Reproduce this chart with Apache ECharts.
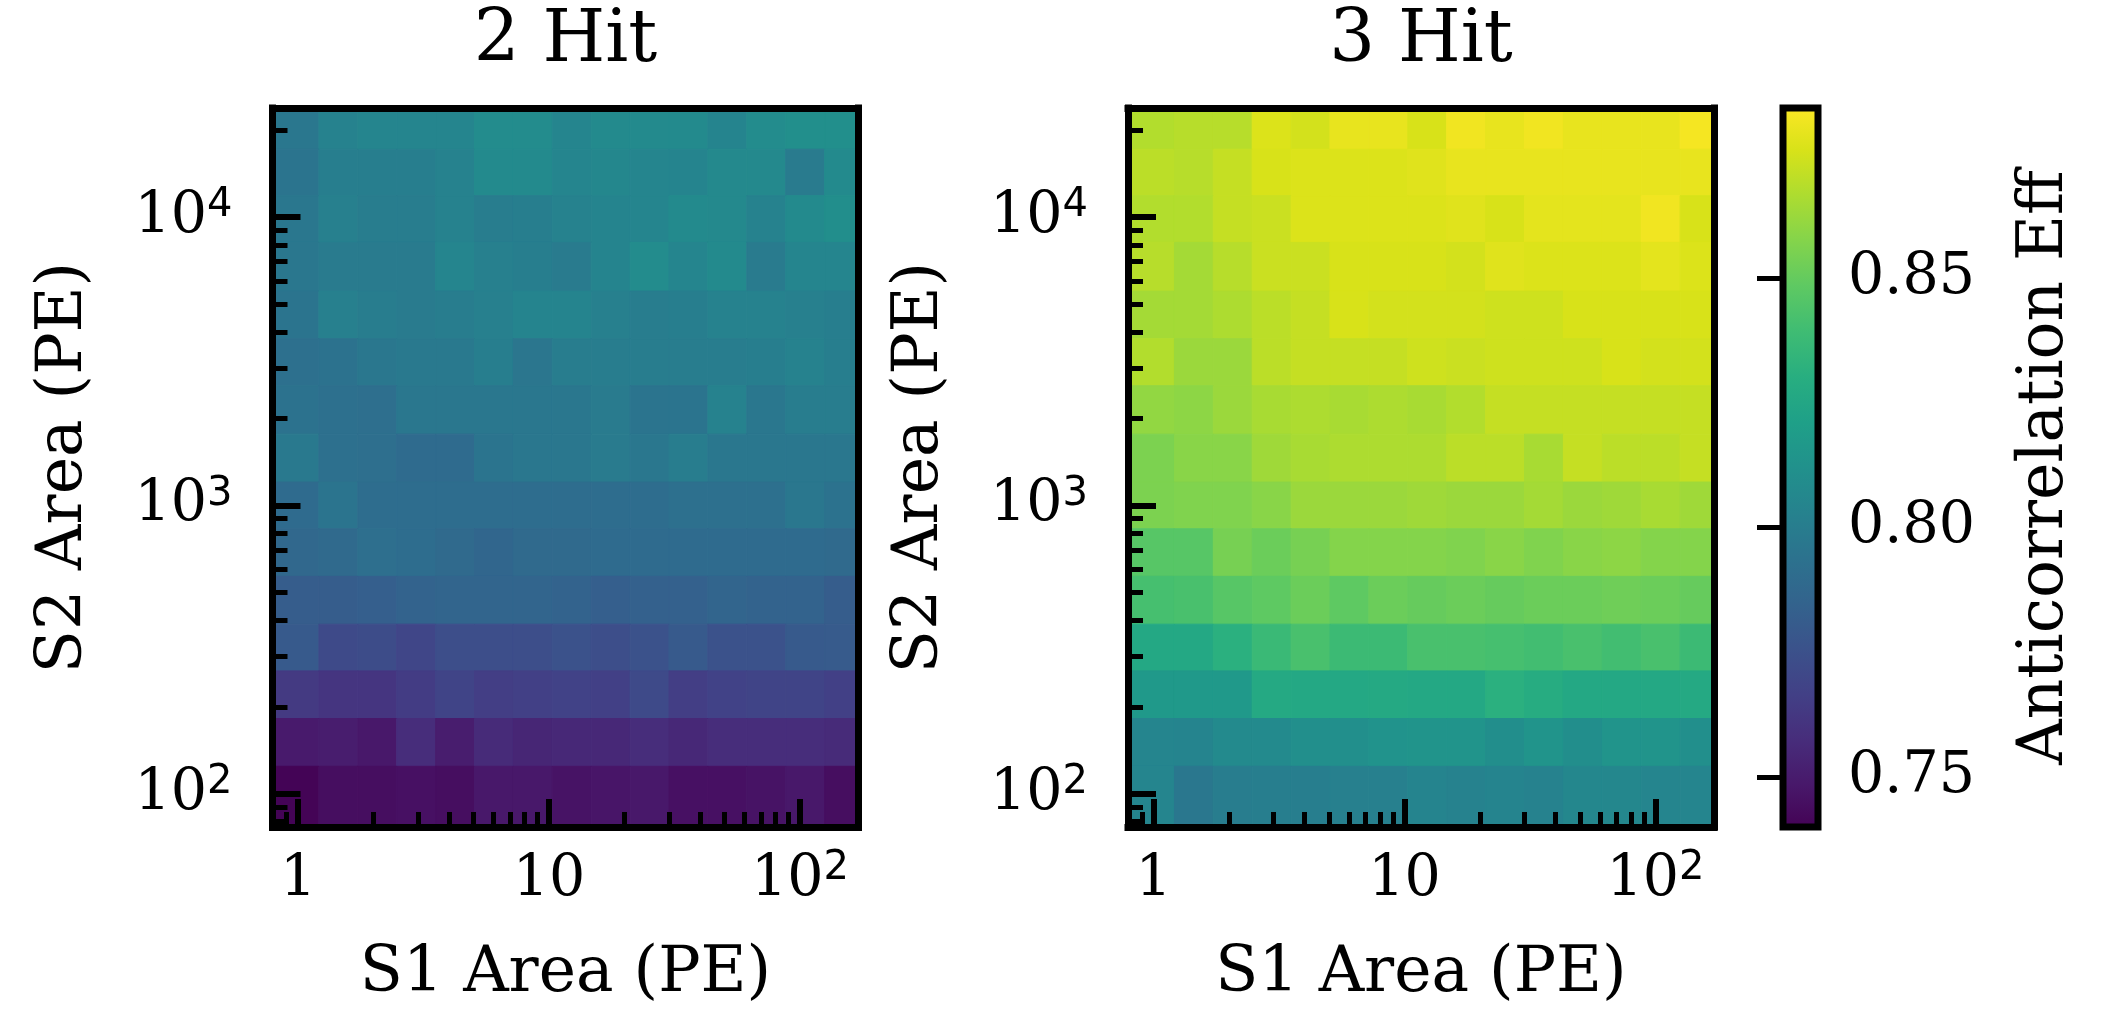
<!DOCTYPE html>
<html>
<head>
<meta charset="utf-8">
<script src="https://cdn.jsdelivr.net/npm/echarts@6.0.0/dist/echarts.min.js"></script>
<style>
  html, body { margin: 0; padding: 0; background: #ffffff; }
  #chart { width: 2126px; height: 1023px; }
</style>
</head>
<body>
<div id="chart"></div>
<script>
// ---- binning (PE) -------------------------------------------------------
// S1 bin edges, shared by both panels (15 bins)
const s1Edges = [0.791, 1.211, 1.730, 2.472, 3.532, 5.047, 7.211, 10.30, 14.72,
                 21.04, 30.06, 42.95, 61.38, 87.70, 125.3, 171.0];
// S2 bin edges (15 bins)
const s2Edges = [76.7, 124.5, 182.4, 266.7, 387.3, 567.5, 829.8, 1205, 1766,
                 2600, 3784, 5534, 8166, 11858, 17180, 23880];

// ---- tick positions -----------------------------------------------------
const s1MajorTicks = [1, 10, 100];
const s1MinorTicks = [0.8, 0.9, 2, 3, 4, 5, 6, 7, 8, 9, 20, 30, 40, 50, 60, 70, 80, 90];
const s2MajorTicks = [100, 1000, 10000];
const s2MinorTicks = [80, 90, 200, 300, 400, 500, 600, 700, 800, 900,
                      2000, 3000, 4000, 5000, 6000, 7000, 8000, 9000, 20000];
const effTicks = [0.75, 0.80, 0.85];
const effMin = 0.740;
const effMax = 0.884;

// ---- anticorrelation efficiency per (S1, S2) bin --------------------------
// each row is one S2 bin, listed from the highest S2 bin down to the lowest;
// columns run over the S1 bins from low to high
const effTwoHit = [
  [0.797, 0.803, 0.805, 0.805, 0.805, 0.809, 0.809, 0.805, 0.808, 0.808, 0.808, 0.804, 0.809, 0.811, 0.811],
  [0.795, 0.801, 0.801, 0.801, 0.803, 0.808, 0.808, 0.805, 0.806, 0.805, 0.804, 0.807, 0.807, 0.799, 0.808],
  [0.797, 0.802, 0.800, 0.800, 0.803, 0.800, 0.801, 0.803, 0.804, 0.805, 0.808, 0.807, 0.803, 0.808, 0.810],
  [0.797, 0.799, 0.799, 0.799, 0.805, 0.802, 0.801, 0.799, 0.804, 0.809, 0.805, 0.808, 0.799, 0.805, 0.805],
  [0.795, 0.802, 0.800, 0.799, 0.800, 0.802, 0.804, 0.804, 0.802, 0.800, 0.801, 0.803, 0.803, 0.802, 0.801],
  [0.793, 0.794, 0.797, 0.798, 0.798, 0.801, 0.796, 0.800, 0.800, 0.800, 0.800, 0.800, 0.801, 0.803, 0.801],
  [0.794, 0.793, 0.792, 0.797, 0.797, 0.797, 0.797, 0.797, 0.799, 0.795, 0.795, 0.803, 0.797, 0.800, 0.800],
  [0.798, 0.793, 0.792, 0.790, 0.790, 0.795, 0.797, 0.797, 0.799, 0.797, 0.800, 0.797, 0.797, 0.797, 0.797],
  [0.790, 0.795, 0.791, 0.791, 0.791, 0.791, 0.791, 0.791, 0.791, 0.791, 0.793, 0.793, 0.793, 0.797, 0.794],
  [0.788, 0.789, 0.792, 0.791, 0.789, 0.787, 0.789, 0.789, 0.790, 0.790, 0.790, 0.790, 0.790, 0.790, 0.789],
  [0.782, 0.782, 0.783, 0.785, 0.786, 0.786, 0.786, 0.785, 0.783, 0.784, 0.784, 0.786, 0.785, 0.785, 0.782],
  [0.780, 0.772, 0.773, 0.770, 0.774, 0.774, 0.774, 0.776, 0.774, 0.776, 0.780, 0.776, 0.776, 0.780, 0.781],
  [0.764, 0.762, 0.762, 0.765, 0.769, 0.766, 0.767, 0.768, 0.767, 0.772, 0.766, 0.768, 0.769, 0.769, 0.767],
  [0.750, 0.751, 0.749, 0.758, 0.751, 0.757, 0.755, 0.756, 0.756, 0.758, 0.756, 0.758, 0.758, 0.758, 0.757],
  [0.741, 0.745, 0.745, 0.746, 0.745, 0.749, 0.749, 0.747, 0.748, 0.749, 0.746, 0.746, 0.747, 0.749, 0.745]
];

const effThreeHit = [
  [0.867, 0.868, 0.868, 0.876, 0.874, 0.879, 0.879, 0.875, 0.881, 0.879, 0.881, 0.879, 0.879, 0.879, 0.882],
  [0.869, 0.868, 0.871, 0.875, 0.876, 0.876, 0.876, 0.877, 0.879, 0.879, 0.879, 0.879, 0.879, 0.879, 0.879],
  [0.867, 0.867, 0.871, 0.872, 0.876, 0.876, 0.876, 0.876, 0.877, 0.875, 0.878, 0.878, 0.878, 0.881, 0.875],
  [0.868, 0.864, 0.868, 0.872, 0.872, 0.875, 0.875, 0.875, 0.874, 0.877, 0.876, 0.876, 0.876, 0.878, 0.876],
  [0.864, 0.864, 0.866, 0.869, 0.871, 0.875, 0.874, 0.874, 0.874, 0.873, 0.873, 0.875, 0.875, 0.875, 0.875],
  [0.867, 0.862, 0.862, 0.869, 0.871, 0.871, 0.871, 0.873, 0.872, 0.873, 0.873, 0.873, 0.875, 0.874, 0.874],
  [0.860, 0.859, 0.862, 0.865, 0.866, 0.865, 0.866, 0.865, 0.867, 0.871, 0.871, 0.871, 0.871, 0.871, 0.871],
  [0.855, 0.858, 0.858, 0.863, 0.865, 0.866, 0.866, 0.866, 0.869, 0.869, 0.865, 0.871, 0.869, 0.869, 0.871],
  [0.855, 0.856, 0.856, 0.858, 0.862, 0.862, 0.862, 0.863, 0.862, 0.862, 0.864, 0.862, 0.863, 0.865, 0.863],
  [0.846, 0.846, 0.854, 0.851, 0.854, 0.857, 0.857, 0.857, 0.856, 0.858, 0.856, 0.858, 0.859, 0.857, 0.857],
  [0.841, 0.842, 0.846, 0.848, 0.851, 0.848, 0.851, 0.850, 0.851, 0.850, 0.851, 0.851, 0.852, 0.851, 0.850],
  [0.826, 0.826, 0.831, 0.837, 0.842, 0.838, 0.838, 0.842, 0.842, 0.841, 0.840, 0.842, 0.840, 0.842, 0.838],
  [0.817, 0.817, 0.817, 0.827, 0.826, 0.826, 0.827, 0.826, 0.826, 0.831, 0.829, 0.826, 0.826, 0.826, 0.827],
  [0.805, 0.804, 0.808, 0.808, 0.811, 0.811, 0.813, 0.814, 0.814, 0.810, 0.814, 0.810, 0.814, 0.814, 0.811],
  [0.805, 0.797, 0.800, 0.801, 0.801, 0.802, 0.802, 0.804, 0.803, 0.804, 0.803, 0.806, 0.806, 0.805, 0.805]
];

// viridis
const viridis = ['#440154', '#48186a', '#472d7b', '#424086', '#3b528b', '#33638d',
                 '#2c728e', '#26828e', '#21918c', '#1fa088', '#28ae80', '#3fbc73',
                 '#5ec962', '#84d44b', '#addc30', '#d8e219', '#fde725'];

// ---- helpers --------------------------------------------------------------
const SERIF = '"DejaVu Serif", "Liberation Serif", serif';
const INK = '#000000';
const TICK_FONT = 57;
const NAME_FONT = 63;

function cells(rows) {
  const out = [];
  const n = rows.length;
  rows.forEach(function (row, r) {
    const j = n - 1 - r;
    row.forEach(function (v, i) {
      out.push([
        Math.sqrt(s1Edges[i] * s1Edges[i + 1]),
        Math.sqrt(s2Edges[j] * s2Edges[j + 1]),
        v, i, j
      ]);
    });
  });
  return out;
}

function drawCell(params, api) {
  const i = api.value(3);
  const j = api.value(4);
  const a = api.coord([s1Edges[i], s2Edges[j]]);
  const b = api.coord([s1Edges[i + 1], s2Edges[j + 1]]);
  const color = api.visual('color');
  return {
    type: 'rect',
    shape: { x: a[0], y: b[1], width: b[0] - a[0], height: a[1] - b[1] },
    style: { fill: color, stroke: color, lineWidth: 1 }
  };
}

function drawColorbar(params, api) {
  const a = api.coord([0, effMin]);
  const b = api.coord([1, effMax]);
  const stops = viridis.map(function (c, k) { return { offset: k / (viridis.length - 1), color: c }; });
  return {
    type: 'rect',
    shape: { x: a[0], y: b[1], width: b[0] - a[0], height: a[1] - b[1] },
    style: {
      fill: { type: 'linear', x: 0, y: 1, x2: 0, y2: 0, colorStops: stops },
      stroke: INK, lineWidth: 7
    }
  };
}

function decadeLabel(v) {
  const e = Math.round(Math.log10(v));
  if (e === 0) return '1';
  if (e === 1) return '10';
  return '10{sup|' + e + '}';
}

const supRich = {
  sup: { fontFamily: '"DejaVu Sans", sans-serif', fontSize: 40, lineHeight: 40,
         verticalAlign: 'top', color: INK }
};

const frameLine = { show: true, onZero: false, lineStyle: { color: INK, width: 7, cap: 'square' } };
const noLine = { show: false };

function panelXAxes(g) {
  const base = { type: 'log', gridIndex: g, min: s1Edges[0], max: s1Edges[s1Edges.length - 1],
                 z: 5, splitLine: { show: false }, minorTick: { show: false } };
  return [
    Object.assign({}, base, {
      position: 'bottom',
      name: 'S1 Area (PE)', nameLocation: 'middle', nameGap: 116, nameMoveOverlap: false,
      nameTextStyle: { fontFamily: SERIF, fontSize: NAME_FONT, color: INK, lineHeight: 63 },
      axisLine: frameLine,
      axisTick: { show: true, inside: true, length: 28, customValues: s1MajorTicks,
                  lineStyle: { color: INK, width: 6 } },
      axisLabel: { show: true, customValues: s1MajorTicks, formatter: decadeLabel, margin: 22,
                   fontFamily: SERIF, fontSize: TICK_FONT, lineHeight: 62, color: INK, rich: supRich }
    }),
    Object.assign({}, base, {
      position: 'bottom', axisLine: noLine, axisLabel: { show: false },
      axisTick: { show: true, inside: true, length: 15, customValues: s1MinorTicks,
                  lineStyle: { color: INK, width: 5 } }
    }),
    Object.assign({}, base, {
      position: 'top', axisLine: frameLine, axisLabel: { show: false }, axisTick: { show: false }
    })
  ];
}

function panelYAxes(g) {
  const base = { type: 'log', gridIndex: g, min: s2Edges[0], max: s2Edges[s2Edges.length - 1],
                 z: 5, splitLine: { show: false }, minorTick: { show: false } };
  return [
    Object.assign({}, base, {
      position: 'left',
      name: 'S2 Area (PE)', nameLocation: 'middle', nameGap: 176, nameRotate: 90, nameMoveOverlap: false,
      nameTextStyle: { fontFamily: SERIF, fontSize: NAME_FONT, color: INK, lineHeight: 63 },
      axisLine: frameLine,
      axisTick: { show: true, inside: true, length: 28, customValues: s2MajorTicks,
                  lineStyle: { color: INK, width: 6 } },
      axisLabel: { show: true, customValues: s2MajorTicks, formatter: decadeLabel, margin: 40,
                   fontFamily: SERIF, fontSize: TICK_FONT, lineHeight: 62, color: INK, rich: supRich }
    }),
    Object.assign({}, base, {
      position: 'left', axisLine: noLine, axisLabel: { show: false },
      axisTick: { show: true, inside: true, length: 15, customValues: s2MinorTicks,
                  lineStyle: { color: INK, width: 5 } }
    }),
    Object.assign({}, base, {
      position: 'right', axisLine: frameLine, axisLabel: { show: false }, axisTick: { show: false }
    })
  ];
}

// ---- layout ----------------------------------------------------------------
const panelTop = 108;
const panelHeight = 719;
const panelWidth = 586;
const panelLefts = [272.5, 1128];
const barLeft = 1783;
const barWidth = 35;

const chart = echarts.init(document.getElementById('chart'), null, { renderer: 'canvas' });

const option = {
  backgroundColor: '#ffffff',
  animation: false,
  grid: [
    { left: panelLefts[0], top: panelTop, width: panelWidth, height: panelHeight, containLabel: false, outerBoundsMode: 'none' },
    { left: panelLefts[1], top: panelTop, width: panelWidth, height: panelHeight, containLabel: false, outerBoundsMode: 'none' },
    { left: barLeft, top: panelTop, width: barWidth, height: panelHeight, containLabel: false, outerBoundsMode: 'none' }
  ],
  xAxis: panelXAxes(0).concat(panelXAxes(1)).concat([
    { type: 'value', gridIndex: 2, min: 0, max: 1, show: false }
  ]),
  yAxis: panelYAxes(0).concat(panelYAxes(1)).concat([
    { type: 'value', gridIndex: 2, min: effMin, max: effMax, position: 'right', z: 5,
      name: 'Anticorrelation Eff', nameLocation: 'middle', nameGap: 196, nameRotate: 90, nameMoveOverlap: false,
      nameTextStyle: { fontFamily: SERIF, fontSize: NAME_FONT, color: INK, lineHeight: 63 },
      axisLine: { show: false }, splitLine: { show: false },
      axisTick: { show: true, inside: true, length: 26, customValues: effTicks,
                  lineStyle: { color: INK, width: 5 } },
      axisLabel: { show: true, customValues: effTicks, margin: 30,
                   formatter: function (v) { return v.toFixed(2); },
                   fontFamily: SERIF, fontSize: TICK_FONT, color: INK } }
  ]),
  visualMap: {
    type: 'continuous', show: false, min: effMin, max: effMax, dimension: 2,
    seriesIndex: [0, 1], inRange: { color: viridis }
  },
  graphic: [
    { type: 'text', x: panelLefts[0] + panelWidth / 2, y: 42, z: 10,
      style: { text: '2 Hit', fontFamily: SERIF, fontSize: 72, fill: INK, align: 'center', verticalAlign: 'middle' } },
    { type: 'text', x: panelLefts[1] + panelWidth / 2, y: 42, z: 10,
      style: { text: '3 Hit', fontFamily: SERIF, fontSize: 72, fill: INK, align: 'center', verticalAlign: 'middle' } }
  ],
  series: [
    { type: 'custom', name: '2 Hit', xAxisIndex: 0, yAxisIndex: 0, z: 2, clip: true,
      dimensions: ['s1', 's2', 'eff', 'i', 'j'], encode: { x: 0, y: 1 },
      renderItem: drawCell, data: cells(effTwoHit) },
    { type: 'custom', name: '3 Hit', xAxisIndex: 3, yAxisIndex: 3, z: 2, clip: true,
      dimensions: ['s1', 's2', 'eff', 'i', 'j'], encode: { x: 0, y: 1 },
      renderItem: drawCell, data: cells(effThreeHit) },
    { type: 'custom', name: 'colorbar', xAxisIndex: 6, yAxisIndex: 6, z: 2, silent: true,
      encode: { x: 0, y: 1 }, renderItem: drawColorbar, data: [[0.5, (effMin + effMax) / 2]] }
  ]
};

chart.setOption(option);
</script>
</body>
</html>
